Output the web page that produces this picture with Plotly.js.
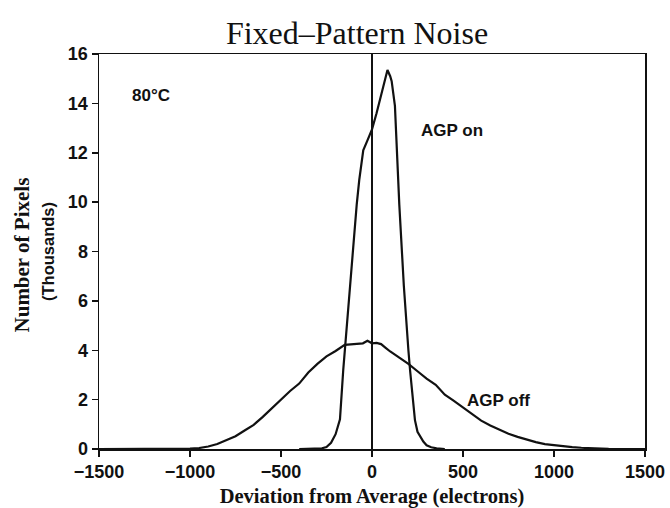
<!DOCTYPE html>
<html>
<head>
<meta charset="utf-8">
<script src="https://cdn.plot.ly/plotly-3.0.1.min.js"></script>
<style>html,body{margin:0;padding:0;background:#fff;}#chart{width:670px;height:508px;}</style>
</head>
<body>
<div id="chart"></div>
<script>
// AGP on (narrow distribution)
var agpOnX = [-400, -350, -300, -275, -250, -225, -200, -176, -158, -139, -125, -100, -84, -70, -48, -25, 0, 25, 50, 75, 85, 100, 108, 126, 150, 175, 187, 200, 209, 225, 236, 250, 282, 300, 325, 355, 400];
var agpOnY = [0, 0, 0.01, 0.03, 0.08, 0.25, 0.6, 1.2, 3.2, 5.0, 6.3, 8.5, 9.9, 10.9, 12.1, 12.5, 12.95, 13.6, 14.35, 15.15, 15.35, 15.1, 14.9, 13.9, 9.9, 6.6, 5.2, 4.0, 3.2, 2.0, 1.17, 0.7, 0.3, 0.15, 0.07, 0.03, 0];

// AGP off (broad distribution)
var agpOffX = [-1500, -1200, -1100, -1000, -950, -900, -850, -800, -750, -700, -650, -600, -550, -500, -450, -400, -350, -300, -250, -200, -150, -100, -50, -25, 0, 25, 50, 75, 100, 150, 200, 250, 300, 350, 400, 450, 500, 550, 600, 650, 700, 750, 800, 850, 900, 950, 1000, 1050, 1100, 1150, 1200, 1300, 1400, 1500];
var agpOffY = [0, 0, 0.01, 0.02, 0.04, 0.1, 0.2, 0.36, 0.52, 0.75, 0.98, 1.3, 1.65, 2.02, 2.35, 2.65, 3.1, 3.45, 3.75, 3.97, 4.22, 4.25, 4.28, 4.38, 4.28, 4.3, 4.25, 4.1, 3.95, 3.7, 3.45, 3.15, 2.85, 2.6, 2.2, 1.95, 1.68, 1.42, 1.15, 0.95, 0.78, 0.62, 0.49, 0.38, 0.28, 0.2, 0.15, 0.12, 0.08, 0.05, 0.03, 0.01, 0, 0];

var xTicks = [-1500, -1000, -500, 0, 500, 1000, 1500];
var yTicks = [0, 2, 4, 6, 8, 10, 12, 14, 16];

var sans = 'Liberation Sans, Arial, sans-serif';
var serif = 'Liberation Serif, Times New Roman, serif';

var traces = [
  {x: agpOnX, y: agpOnY, type: 'scatter', mode: 'lines', name: 'AGP on',
   line: {color: '#111', width: 2.2}},
  {x: agpOffX, y: agpOffY, type: 'scatter', mode: 'lines', name: 'AGP off',
   line: {color: '#111', width: 2.2}}
];

var layout = {
  width: 670, height: 508,
  margin: {l: 99, r: 25, t: 54, b: 59},
  paper_bgcolor: '#fff', plot_bgcolor: '#fff',
  showlegend: false,
  title: {text: 'Fixed\u2013Pattern Noise', font: {family: serif, size: 32, color: '#111'},
          xref: 'paper', x: 0.4725, xanchor: 'center', yref: 'container', y: 0.935, yanchor: 'middle'},
  xaxis: {
    range: [-1500, 1500], tickvals: xTicks, ticktext: xTicks.map(function(v){return v < 0 ? '\u2212' + Math.abs(v) : String(v);}),
    ticks: 'outside', ticklen: 6, tickwidth: 1.5, tickcolor: '#111',
    showline: true, linecolor: '#111', linewidth: 1.5, mirror: true,
    showgrid: false, zeroline: true, zerolinecolor: '#111', zerolinewidth: 1.5,
    tickfont: {family: sans, size: 18, color: '#111', weight: 'bold'},
    title: {text: '<b>Deviation from Average (electrons)</b>', font: {family: serif, size: 20.5, color: '#111'}, standoff: 8}
  },
  yaxis: {
    range: [0, 16], tickvals: yTicks,
    ticks: 'outside', ticklen: 6, tickwidth: 1.5, tickcolor: '#111',
    showline: true, linecolor: '#111', linewidth: 1.5, mirror: true,
    showgrid: false, zeroline: false,
    tickfont: {family: sans, size: 18, color: '#111', weight: 'bold'},
    title: {text: '<b>(Thousands)</b>', font: {family: sans, size: 16.5, color: '#111'}, standoff: 9}
  },
  annotations: [
    {text: '<b>Number of Pixels</b>', xref: 'paper', yref: 'paper', x: -0.141, y: 0.49,
     xanchor: 'center', yanchor: 'middle',
     textangle: -90, showarrow: false, font: {family: serif, size: 21, color: '#111'}},
    {text: '<b>80\u00b0C</b>', x: -1214, y: 14.33, showarrow: false, font: {family: sans, size: 17, color: '#111'}},
    {text: '<b>AGP on</b>', x: 437, y: 12.9, showarrow: false, font: {family: sans, size: 17, color: '#111'}},
    {text: '<b>AGP off</b>', x: 695, y: 1.98, showarrow: false, font: {family: sans, size: 17, color: '#111'}}
  ]
};

Plotly.newPlot('chart', traces, layout, {staticPlot: true, displayModeBar: false});
</script>
</body>
</html>
